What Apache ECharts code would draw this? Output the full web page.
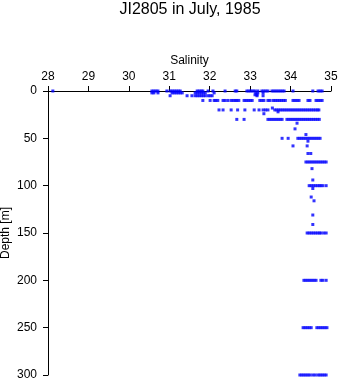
<!DOCTYPE html>
<html>
<head>
<meta charset="utf-8">
<script src="https://cdn.jsdelivr.net/npm/echarts@6/dist/echarts.min.js"></script>
<style>html,body{margin:0;padding:0;background:#fff}#c{width:341px;height:384px}</style>
</head>
<body>
<div id="c"></div>
<script>
// Salinity samples grouped by depth (m)
const sal_0 = [28.12, 30.57, 30.62, 30.67, 30.72, 30.94, 31.02, 31.07, 31.12, 31.17, 31.22, 31.27, 31.69, 31.74, 31.79, 31.83, 31.96, 32.08, 32.38, 32.63, 32.67, 32.92, 32.97, 33.02, 33.07, 33.12, 33.19, 33.29, 33.34, 33.39, 33.44, 33.54, 33.59, 33.64, 33.69, 33.74, 33.79, 33.84, 34.06, 34.55, 34.68, 34.73, 34.78];
const sal_2 = [30.57, 30.62, 30.72, 31.07, 31.12, 31.17, 31.22, 31.27, 31.32, 31.64, 31.69, 31.74, 31.79, 31.84, 31.89, 32.11, 33.14, 33.19, 33.32];
const sal_4 = [33.12, 33.17];
const sal_5 = [31.02, 31.44, 31.56, 31.64, 31.69, 31.74, 31.79, 31.84, 31.89, 31.96, 32.01, 32.06, 33.17, 33.32];
const sal_10 = [31.83, 32.01, 32.11, 32.15, 32.20, 32.33, 32.38, 32.45, 32.53, 32.58, 32.63, 32.67, 32.72, 32.85, 32.90, 32.95, 33.00, 33.05, 33.24, 33.29, 33.34, 33.44, 33.49, 33.57, 33.62, 33.67, 33.72, 33.77, 33.82, 33.87, 34.06, 34.11, 34.16, 34.21, 34.43, 34.48, 34.63, 34.68, 34.73, 34.78];
const sal_18 = [33.55];
const sal_20 = [32.23, 32.33, 32.53, 32.69, 32.87, 33.10, 33.22, 33.32, 33.38, 33.44, 33.61, 33.66, 33.71, 33.76, 33.81, 33.86, 33.91, 33.96, 34.01, 34.06, 34.11, 34.16, 34.21, 34.26, 34.31, 34.36, 34.41, 34.46, 34.51, 34.56, 34.61, 34.66, 34.70];
const sal_22 = [33.69];
const sal_24 = [33.34];
const sal_30 = [32.67, 32.85, 33.44, 33.49, 33.54, 33.59, 33.64, 33.69, 33.74, 33.79, 33.91, 33.96, 34.01, 34.06, 34.11, 34.16, 34.21, 34.26, 34.31, 34.36, 34.41, 34.46, 34.51, 34.56, 34.61, 34.66, 34.71];
const sal_34 = [34.16];
const sal_40 = [34.11];
const sal_46 = [34.38];
const sal_50 = [33.79, 33.94, 34.18, 34.23, 34.28, 34.33, 34.38, 34.43, 34.48, 34.53, 34.58, 34.63, 34.68, 34.73];
const sal_53 = [34.43];
const sal_58 = [34.06, 34.41];
const sal_66 = [34.43, 34.50];
const sal_75 = [34.38, 34.43, 34.48, 34.53, 34.58, 34.63, 34.68, 34.73, 34.78, 34.83, 34.88];
const sal_82 = [34.53];
const sal_94 = [34.55];
const sal_100 = [34.46, 34.51, 34.56, 34.61, 34.66, 34.71, 34.75, 34.80, 34.88];
const sal_103 = [34.55];
const sal_112 = [34.51];
const sal_116 = [34.58];
const sal_131 = [34.55];
const sal_141 = [34.55];
const sal_150 = [34.41, 34.46, 34.51, 34.56, 34.61, 34.66, 34.71, 34.75, 34.82, 34.88];
const sal_200 = [34.33, 34.38, 34.43, 34.48, 34.53, 34.58, 34.63, 34.75, 34.80, 34.88];
const sal_250 = [34.31, 34.36, 34.41, 34.46, 34.51, 34.65, 34.70, 34.75, 34.80, 34.85, 34.90];
const sal_300 = [34.23, 34.28, 34.33, 34.38, 34.43, 34.48, 34.55, 34.61, 34.68, 34.73, 34.78, 34.83, 34.88];

const depthLevels = [0, 2, 4, 5, 10, 18, 20, 22, 24, 30, 34, 40, 46, 50, 53, 58, 66, 75, 82, 94, 100, 103, 112, 116, 131, 141, 150, 200, 250, 300];
const salinityLevels = [sal_0, sal_2, sal_4, sal_5, sal_10, sal_18, sal_20, sal_22, sal_24, sal_30, sal_34, sal_40, sal_46, sal_50, sal_53, sal_58, sal_66, sal_75, sal_82, sal_94, sal_100, sal_103, sal_112, sal_116, sal_131, sal_141, sal_150, sal_200, sal_250, sal_300];

const points = [];
depthLevels.forEach((d, i) => salinityLevels[i].forEach(s => points.push([s, d])));

const FONT = 'Liberation Sans, Arial, Helvetica, sans-serif';
const chart = echarts.init(document.getElementById('c'), null, { renderer: 'canvas' });
chart.setOption({
  animation: false,
  backgroundColor: '#ffffff',
  title: {
    text: 'JI2805 in July, 1985',
    left: 185, top: -3, textAlign: 'center',
    textStyle: { fontFamily: FONT, fontSize: 16, fontWeight: 'normal', color: '#000' }
  },
  grid: { left: 48, right: 10, top: 91, bottom: 9, containLabel: false, outerBoundsMode: 'none' },
  xAxis: {
    type: 'value', position: 'top', min: 28, max: 35, interval: 1,
    name: 'Salinity', nameLocation: 'middle', nameGap: 24, nameMoveOverlap: false,
    nameTextStyle: { fontFamily: FONT, fontSize: 12, color: '#000' },
    axisLine: { show: true, lineStyle: { color: '#000', width: 1 } },
    axisTick: { show: true, length: 5, lineStyle: { color: '#000' } },
    axisLabel: { fontFamily: FONT, fontSize: 12, color: '#000', margin: 8 },
    splitLine: { show: false }
  },
  yAxis: {
    type: 'value', inverse: true, min: 0, max: 300, interval: 50,
    name: 'Depth [m]', nameLocation: 'middle', nameGap: 36, nameRotate: 90, nameMoveOverlap: false,
    nameTextStyle: { fontFamily: FONT, fontSize: 12, color: '#000' },
    axisLine: { show: true, lineStyle: { color: '#000', width: 1 } },
    axisTick: { show: true, length: 5, lineStyle: { color: '#000' } },
    axisLabel: { fontFamily: FONT, fontSize: 12, color: '#000', margin: 11 },
    splitLine: { show: false }
  },
  series: [{
    type: 'scatter',
    data: points,
    symbol: 'rect',
    symbolSize: 3,
    itemStyle: { color: '#0000ff' },
    silent: true
  }]
});
</script>
</body>
</html>
